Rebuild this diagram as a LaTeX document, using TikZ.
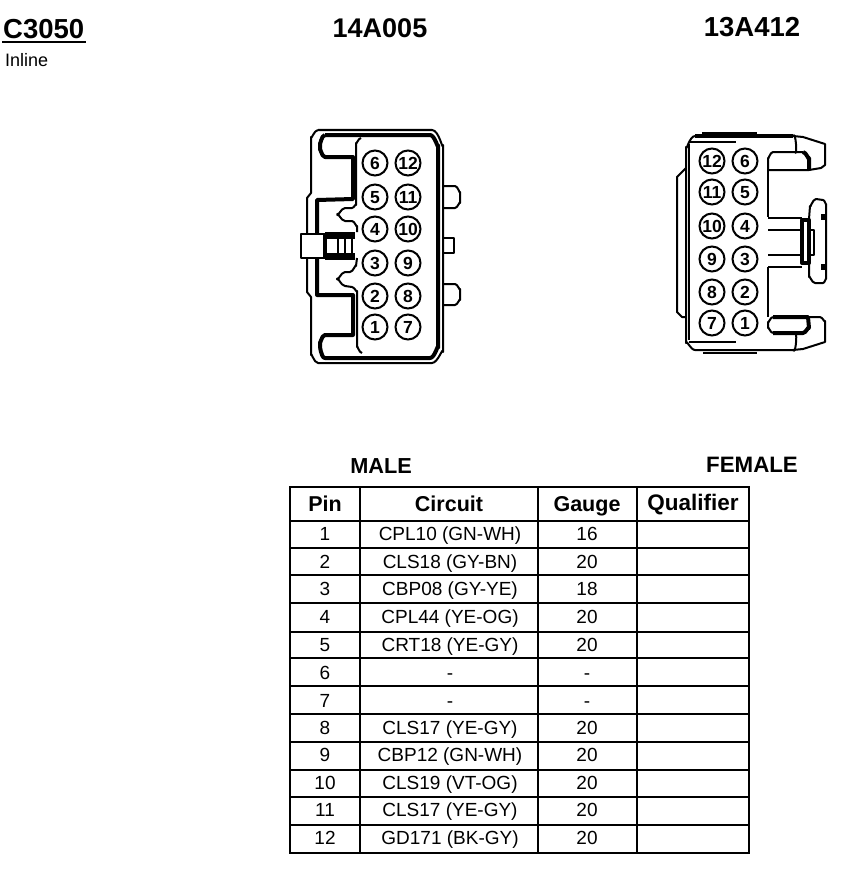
\documentclass[tikz,border=0pt]{standalone}
\usepackage{fontspec}
\setmainfont{Liberation Sans}
\tikzset{
  pin/.style={draw,circle,line width=2pt,minimum size=25pt,inner sep=0pt,text height=12pt,text depth=0pt,font=\fontsize{17.5}{17.5}\selectfont\bfseries},
  heavy/.style={line width=4pt,line join=round},
  wall/.style={line width=2pt,line join=round},
  rule/.style={line width=1.3pt},
  head/.style={text height=15pt,text depth=4pt,font=\fontsize{21.5}{21.5}\selectfont\bfseries},
  body/.style={text height=13.5pt,text depth=3.5pt,font=\fontsize{19}{19}\selectfont}
}
\begin{document}
\begin{tikzpicture}[x=1pt,y=-1pt]
\useasboundingbox (0,0) rectangle (858,880);
% titles
\node[anchor=west,inner sep=0pt,font=\fontsize{27.5}{27.5}\selectfont\bfseries] (title) at (3,29) {C3050};
\draw[line width=1.8pt] (2,42)--(86,42);
\node[anchor=west,inner sep=0pt,font=\fontsize{18}{18}\selectfont] (kind) at (5,60) {Inline};
\node[font=\fontsize{27}{27}\selectfont\bfseries] (mpart) at (380,28) {14A005};
\node[font=\fontsize{27.5}{27.5}\selectfont\bfseries] (fpart) at (752,27) {13A412};
\node[font=\fontsize{21.7}{21.7}\selectfont\bfseries] (male) at (381,466) {MALE};
\node[font=\fontsize{22.3}{22.3}\selectfont\bfseries] (female) at (752,465) {FEMALE};
% male connector
\draw[wall] (318,130)--(432,130) to[out=0,in=-90] (443,145)--(443,352) to[out=90,in=0] (432,363)--(318,363)
  to[out=180,in=90] (311,355)--(311,297)--(307,292)--(307,198)--(311,193)--(311,137) to[out=-90,in=180] (318,130);
\draw[heavy] (325,135)--(430,135) to[out=0,in=-90] (438,145)--(438,348) to[out=90,in=0] (430,358)--(325,358)
  to[out=180,in=90] (320,348)--(320,342) to[out=-90,in=180] (325,335)--(353,335)--(353,295)--(317,295)--(317,200)--(353,199)--(353,157)--(325,157)
  to[out=180,in=90] (320,150)--(320,143) to[out=-90,in=180] (325,135);
\draw[wall] (361,138) to[out=180,in=-90] (356,143)--(356,205) to[out=90,in=0] (352,208)--(345,208) to[out=180,in=-90] (337,214.5) to[out=90,in=180] (345,221)--(352,221) to[out=0,in=-90] (357,226)--(357,232);
\draw[wall] (357,258)--(356,266) to[out=90,in=0] (350,272)--(345,272) to[out=180,in=-90] (337,279) to[out=90,in=180] (345,286)--(352,287) to[out=0,in=-90] (357,291)--(357,347) to[out=90,in=180] (362,353);
% male latch
\filldraw[wall,fill=white] (301,234) rectangle (325,258);
\draw[heavy] (325,233)--(325,259);
\filldraw[black] (325,232) rectangle (354,238);
\filldraw[black] (325,253) rectangle (354,259);
\foreach \xs in {338,345,352}
  \draw[line width=1.6pt] (\xs,235)--(\xs,257);
% male side tabs
\draw[wall] (443,186)--(455,186) to[out=0,in=-90] (460,192)--(460,203) to[out=90,in=0] (455,208)--(443,208);
\draw[wall] (443,238)--(454,238)--(454,253)--(443,253);
\draw[wall] (443,284)--(455,284) to[out=0,in=-90] (460,289)--(460,300) to[out=90,in=0] (455,305)--(443,305);
% male pins
\foreach \n/\xp/\yp in {6/375/163,12/408/163,5/375/197,11/408/197,4/375/229,10/408/229,3/375/263,9/408/263,2/375/296,8/408/296,1/375/327,7/408/327}
  \node[pin] (m\n) at (\xp,\yp) {\n};
% female connector
\draw[heavy] (695,136)--(793,136);
\draw[wall] (793,136)--(803,137)--(825,144)--(825,165)--(821,168)--(809,170);
\draw[wall] (695,136) to[out=180,in=-90] (686,147)--(686,343) to[out=90,in=180] (695,350)--(793,350)--(803,349)--(825,342)--(825,321) to[out=-90,in=0] (820,317)--(808,317);
\draw[wall] (702,133)--(757,133);
\draw[wall] (703,353)--(757,353);
\draw[wall] (689,144)--(689,340);
\draw[wall] (689,142)--(736,142);
\draw[wall] (689,342)--(736,342);
\draw[wall] (686,168)--(677,177)--(677,312)--(682,317)--(686,317);
\draw[wall] (793,136) to[out=60,in=-70] (795,152);
\draw[wall] (795,333) to[out=70,in=-60] (793,350);
% female hooks
\draw[heavy] (803,152) to[out=0,in=-90] (809,158)--(809,170);
\draw[wall] (809,170)--(768,170)--(768,158) to[out=-90,in=180] (773,152)--(803,152);
\draw[heavy] (773,317)--(808,317)--(809,328) to[out=90,in=0] (803,333)--(773,333);
\draw[wall] (773,333) to[out=180,in=90] (768,328)--(768,322) to[out=-90,in=180] (773,317);
\draw[wall] (768,170)--(768,217);
\draw[wall] (768,267)--(768,317);
% female latch
\draw[wall] (768,218)--(802,218);
\draw[wall] (768,230)--(802,230);
\draw[wall] (768,255)--(802,255);
\draw[wall] (768,267)--(802,267);
\draw[heavy] (802,220) rectangle (809,263);
\draw[wall] (809,230) rectangle (814,255);
\draw[wall] (809,219)--(810,206) to[out=-90,in=180] (816,199)--(823,200) to[out=0,in=-90] (826,204)--(826,279) to[out=90,in=0] (823,283)--(815,283) to[out=180,in=90] (809,277)--(809,263);
\draw[heavy] (823,214)--(823,220);
\draw[heavy] (823,264)--(823,270);
% female pins
\foreach \n/\xp/\yp in {12/712/161,6/745/161,11/712/192,5/745/192,10/712/226,4/745/226,9/712/259,3/745/259,8/712/292,2/745/292,7/712/323,1/745/323}
  \node[pin] (f\n) at (\xp,\yp) {\n};
% table
\foreach \yr in {521,548,575,603,632,658,686,714,742,770,797,825}
  \draw[rule] (290,\yr)--(749,\yr);
\foreach \xc in {360,538,637}
  \draw[rule] (\xc,487)--(\xc,853);
\draw[line width=1.6pt] (290,487) rectangle (749,853);
\node[head] (hpin) at (325,505.5) {Pin};
\node[head] (hcircuit) at (449,505.5) {Circuit};
\node[head] (hgauge) at (587,505.5) {Gauge};
\node[head,font=\fontsize{22.5}{22.5}\selectfont\bfseries] (hqual) at (693,505) {Qualifier};
\foreach \n/\yr/\cname/\gg in {1/535/CPL10 (GN-WH)/16,2/563/CLS18 (GY-BN)/20,3/590/CBP08 (GY-YE)/18,4/618/CPL44 (YE-OG)/20,5/646/CRT18 (YE-GY)/20,6/674/-/-,7/702/-/-,8/729/CLS17 (YE-GY)/20,9/756/CBP12 (GN-WH)/20,10/784/CLS19 (VT-OG)/20,11/811/CLS17 (YE-GY)/20,12/839/GD171 (BK-GY)/20}{
  \node[body] (p\n) at (325,\yr) {\n};
  \node[body] (c\n) at (450,\yr) {\cname};
  \node[body] (g\n) at (587,\yr) {\gg};
}
\end{tikzpicture}
\end{document}
